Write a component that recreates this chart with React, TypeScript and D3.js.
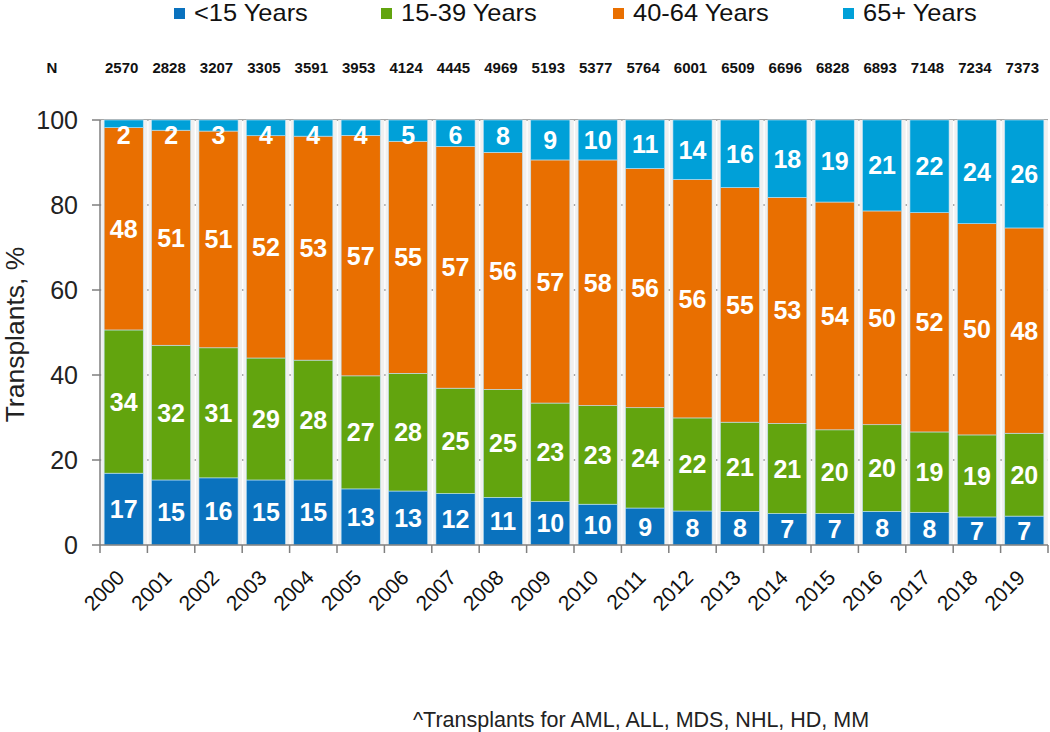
import React from "react";
import * as d3 from "d3";

const years = ["2000","2001","2002","2003","2004","2005","2006","2007","2008","2009","2010","2011","2012","2013","2014","2015","2016","2017","2018","2019"];
const nTotals = ["2570","2828","3207","3305","3591","3953","4124","4445","4969","5193","5377","5764","6001","6509","6696","6828","6893","7148","7234","7373"];
const under15 = [16.9,15.3,15.8,15.3,15.3,13.2,12.7,12.1,11.2,10.2,9.6,8.7,8.0,7.9,7.4,7.4,7.9,7.7,6.6,6.8];
const age15to39 = [33.7,31.7,30.6,28.7,28.2,26.6,27.7,24.8,25.4,23.2,23.2,23.6,21.9,21.0,21.2,19.7,20.4,18.9,19.3,19.5];
const age40to64 = [47.6,50.6,51.0,52.3,52.7,56.6,54.6,56.9,55.8,57.2,57.8,56.3,56.1,55.2,53.2,53.6,50.3,51.6,49.7,48.3];
const age65plus = [1.8,2.4,2.6,3.7,3.8,3.6,5.0,6.2,7.6,9.4,9.6,11.4,14.0,15.9,18.2,19.3,21.4,21.8,24.4,25.6];
const seriesNames = ["<15 Years","15-39 Years","40-64 Years","65+ Years"];
const seriesColors = ["#0A72BE","#62A40E","#E96F00","#00A0D8"];
const yTicks = [0,20,40,60,80,100];

export default function App() {
  const W = 1050, H = 732;
  const left = 100, right = 1048, top = 120, bottom = 545;
  const x = d3.scaleBand<string>().domain(years).range([left, right]).paddingInner(0.175).paddingOuter(0.0875);
  const y = d3.scaleLinear().domain([0, 100]).range([bottom, top]);
  const rows = years.map((yr, i) => ({ year: yr, s0: under15[i], s1: age15to39[i], s2: age40to64[i], s3: age65plus[i] }));
  const stack = d3.stack<any>().keys(["s0","s1","s2","s3"]);
  const layers = stack(rows);
  const step = x.step();
  const boundaries = years.map((_, i) => left + i * step).concat([left + years.length * step]);
  const font = "'Liberation Sans', Arial, sans-serif";
  const legendX = [174, 381, 613, 843];

  return (
    <div style={{ position: "fixed", left: 0, top: 0 }}>
      <svg width={W} height={H} style={{ display: "block", background: "#fff" }} fontFamily={font}>
        {/* legend */}
        {seriesNames.map((n, i) => (
          <g key={n} transform={`translate(${legendX[i]},0)`}>
            <rect x={0} y={8} width={11} height={11} fill={seriesColors[i]} />
            <text x={0} y={21} fontSize={24} fill="#111" transform="translate(20,0) scale(1.06,1)">{n}</text>
          </g>
        ))}
        {/* N row */}
        <text x={52} y={73} fontSize={15} fontWeight="bold" fill="#111" textAnchor="middle">N</text>
        {years.map((yr, i) => (
          <text key={yr} x={x(yr)! + x.bandwidth() / 2 - 2} y={73} fontSize={15} fontWeight="bold" fill="#111" textAnchor="middle">{nTotals[i]}</text>
        ))}
        {/* gridlines */}
        {yTicks.filter(t => t > 0).map(t => (
          <line key={t} x1={left} x2={right} y1={y(t)} y2={y(t)} stroke="#8a8a8a" strokeWidth={1.3} />
        ))}
        {/* bar shadows */}
        {years.map(yr => (
          <rect key={"sh" + yr} x={x(yr)! - 3} y={top} width={x.bandwidth() + 7} height={bottom - top} fill="#f0f0f0" />
        ))}
        {/* bars */}
        {layers.map((layer, li) => (
          <g key={li}>
            {layer.map((d, i) => {
              const y0 = Math.min(d[0], 100), y1 = Math.min(d[1], 100);
              return (
                <rect key={i} x={x(years[i])} y={y(y1)} width={x.bandwidth()} height={Math.max(0, y(y0) - y(y1))}
                  fill={seriesColors[li]} stroke="#bfe3f5" strokeWidth={0.6} />
              );
            })}
          </g>
        ))}
        {/* labels */}
        {layers.map((layer, li) => (
          <g key={"l" + li}>
            {layer.map((d, i) => {
              const y0 = Math.min(d[0], 100), y1 = Math.min(d[1], 100);
              let cy = (y(y0) + y(y1)) / 2;
              if (li === 3) cy = Math.max(cy, y(100) + 15);
              const v = Math.round(d[1] - d[0]);
              return (
                <text key={i} x={x(years[i])! + x.bandwidth() / 2} y={cy + 9} textAnchor="middle" fontSize={25} fontWeight="bold" fill="#fff">{v}</text>
              );
            })}
          </g>
        ))}
        {/* axes */}
        <line x1={left} x2={left} y1={top} y2={bottom} stroke="#7f7f7f" strokeWidth={1.5} />
        <line x1={left} x2={right} y1={bottom} y2={bottom} stroke="#7f7f7f" strokeWidth={1.5} />
        {yTicks.map(t => (
          <g key={"yt" + t}>
            <line x1={left - 8} x2={left} y1={y(t)} y2={y(t)} stroke="#7f7f7f" strokeWidth={1.5} />
            <text x={78} y={y(t) + 9} textAnchor="end" fontSize={25} fill="#222">{t}</text>
          </g>
        ))}
        {boundaries.map((b, i) => (
          <line key={"xt" + i} x1={b} x2={b} y1={bottom} y2={bottom + 8} stroke="#7f7f7f" strokeWidth={1.5} />
        ))}
        {years.map(yr => {
          const cx = x(yr)! + x.bandwidth() / 2 + 2;
          return (
            <text key={"xl" + yr} x={cx} y={579} textAnchor="end" fontSize={21} fill="#111" transform={`rotate(-45,${cx},579)`}>{yr}</text>
          );
        })}
        <text transform={`translate(24,${(top + bottom) / 2 + 2}) rotate(-90) scale(1.06,1)`} textAnchor="middle" fontSize={25} fill="#222">Transplants, %</text>
        <text x={413} y={727} fontSize={21.5} fill="#222">^Transplants for AML, ALL, MDS, NHL, HD, MM</text>
      </svg>
    </div>
  );
}
